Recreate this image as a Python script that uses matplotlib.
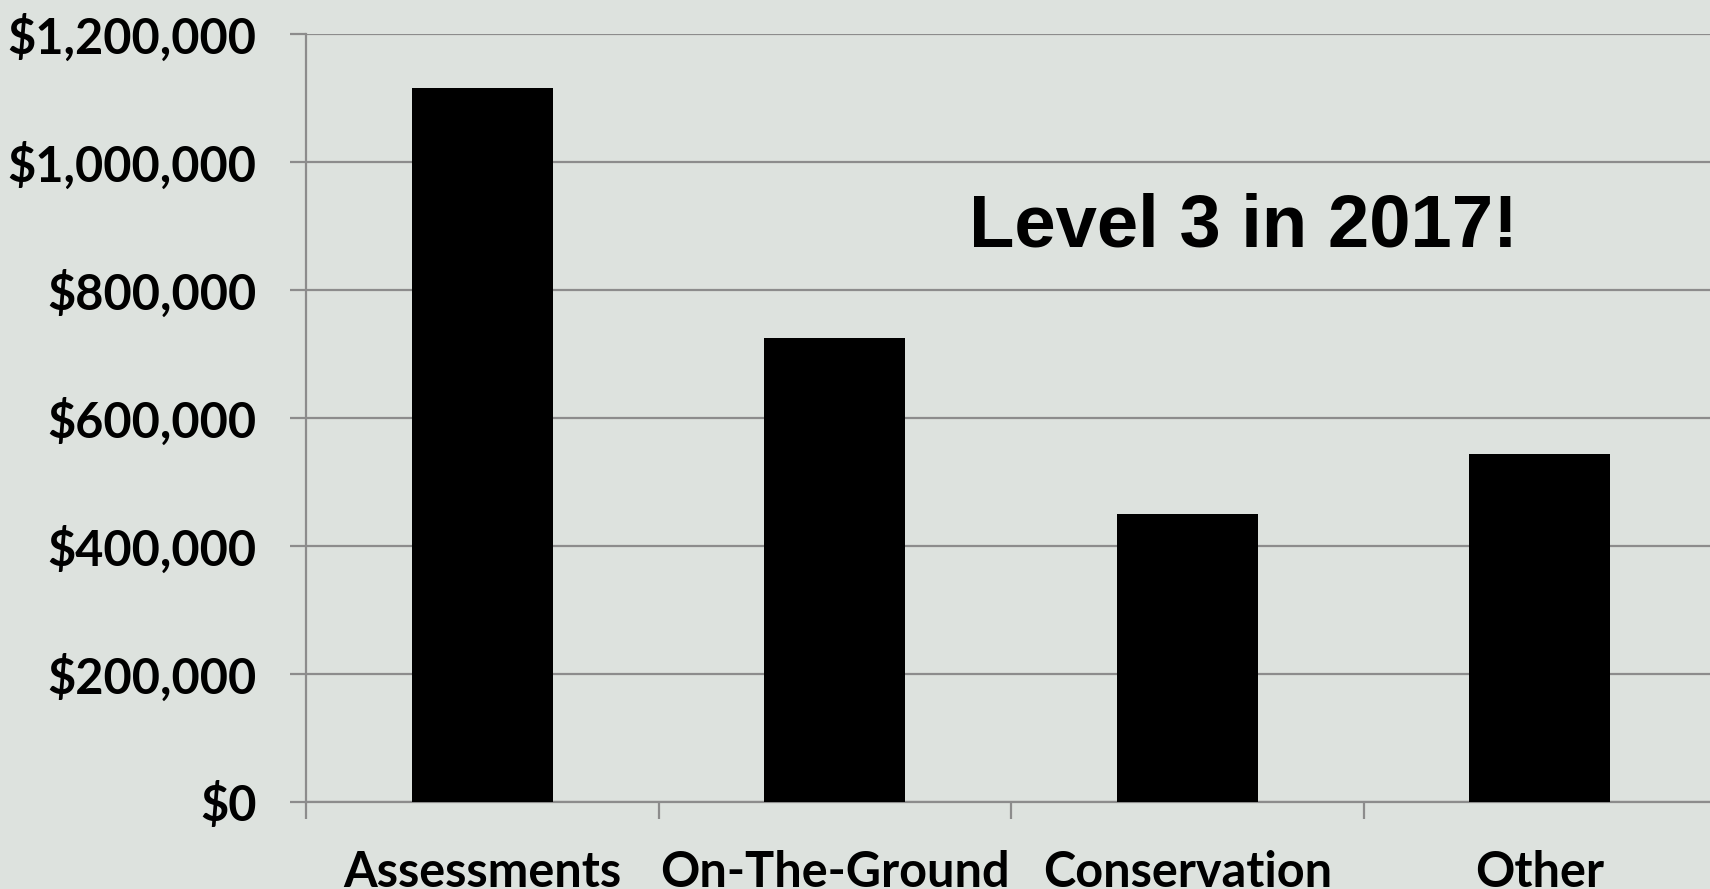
import numpy as np
import matplotlib.pyplot as plt
from matplotlib.ticker import FuncFormatter, FixedLocator

categories = ["Assessments", "On-The-Ground", "Conservation", "Other"]
amounts = [1115000, 725000, 450000, 543000]
y_ticks = [0, 200000, 400000, 600000, 800000, 1000000, 1200000]
note = "Level 3 in 2017!"

bg = "#dde2de"
grid_col = "#8c8c8c"

fig = plt.figure(figsize=(17.1, 8.89), dpi=100, facecolor=bg)
ax = fig.add_axes([0.179, 0.0983, 0.8245, 0.8637], facecolor=bg)

x = np.arange(len(categories))
ax.bar(x, amounts, width=0.4, color="black", zorder=3)

ax.set_xlim(-0.5, len(categories) - 0.5)
ax.set_ylim(0, 1200000)

ax.set_yticks(y_ticks)
ax.yaxis.set_major_formatter(FuncFormatter(lambda v, p: "${:,.0f}".format(v)))
ax.grid(axis="y", color=grid_col, linewidth=1.6, zorder=0)
ax.set_axisbelow(True)

# category boundaries get the tick marks, names sit in the middle
ax.xaxis.set_major_locator(FixedLocator(np.arange(len(categories) + 1) - 0.5))
ax.xaxis.set_major_formatter(FuncFormatter(lambda v, p: ""))
ax.xaxis.set_minor_locator(FixedLocator(x))
ax.set_xticklabels(categories, minor=True)
ax.tick_params(axis="x", which="major", length=12, width=1.6, color=grid_col)
ax.tick_params(axis="x", which="minor", length=0, pad=35)
ax.tick_params(axis="y", length=11.5, width=1.6, color=grid_col, pad=24)

for lab in ax.get_yticklabels() + ax.get_xticklabels(minor=True):
    lab.set_fontfamily("Lato")
    lab.set_fontweight("bold")
    lab.set_fontsize(35)

for side in ["top", "right"]:
    ax.spines[side].set_visible(False)
for side in ["left", "bottom"]:
    ax.spines[side].set_color(grid_col)
    ax.spines[side].set_linewidth(1.6)

ax.text(2.16, 898000, note, ha="center", va="center", fontsize=53.5,
        fontweight="bold", fontfamily="Liberation Sans", zorder=4)

fig.savefig("out.png", dpi=100, facecolor=bg)
